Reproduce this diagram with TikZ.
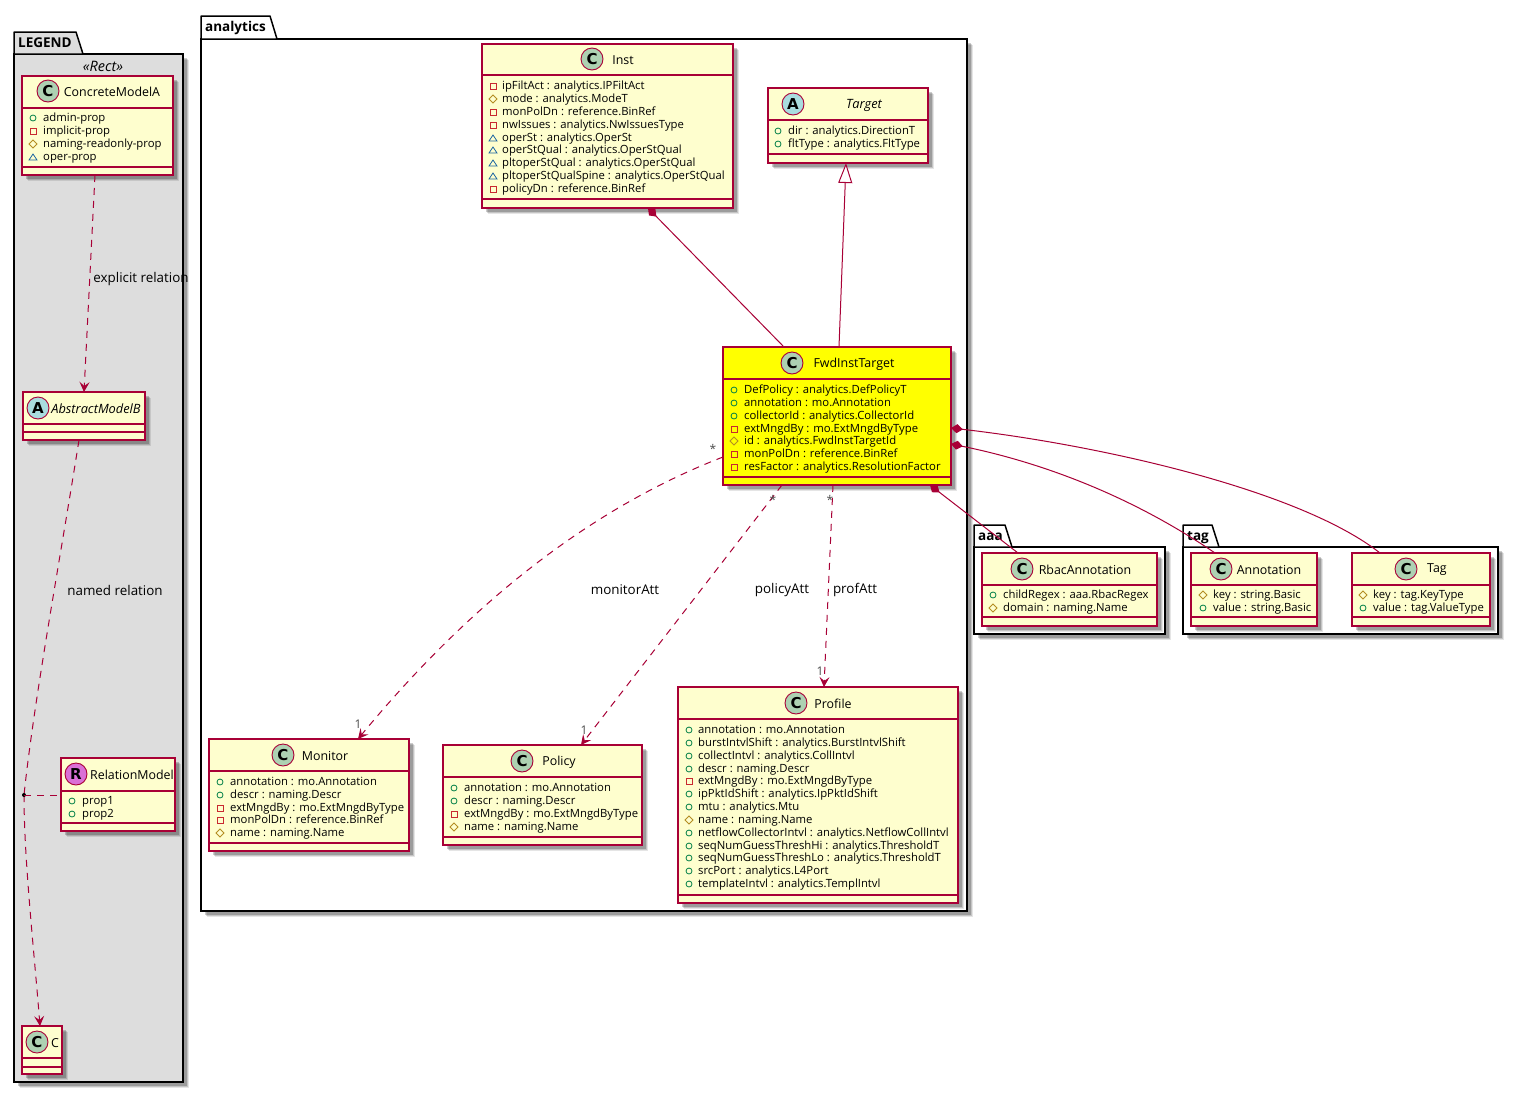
\documentclass[tikz,border=0pt]{standalone}
\usepackage{fontspec}
\setmainfont{Open Sans}
\newfontfamily\glyphfont{DejaVu Sans}
\usetikzlibrary{arrows.meta,shadows,calc}
\definecolor{umlborder}{HTML}{A80036}
\definecolor{umlfill}{HTML}{FEFECE}
\definecolor{spotC}{HTML}{ADD1B2}
\definecolor{spotA}{HTML}{A9DCDF}
\definecolor{spotR}{HTML}{DA70D6}
\definecolor{icpubc}{HTML}{038048}
\definecolor{icprivc}{HTML}{C82930}
\definecolor{icprotc}{HTML}{B38D22}
\definecolor{icpackc}{HTML}{1963A0}
\definecolor{pkggrey}{HTML}{DDDDDD}
\definecolor{fwdyellow}{RGB}{255,255,0}
\newcounter{autonode}
\tikzset{
  softshadow/.style={
    general shadow={shadow xshift=5.5pt,shadow yshift=-5.5pt,fill=black,opacity=.10},
    general shadow={shadow xshift=4.5pt,shadow yshift=-4.5pt,fill=black,opacity=.14},
    general shadow={shadow xshift=3.5pt,shadow yshift=-3.5pt,fill=black,opacity=.20}},
  classbox/.style={draw=umlborder,line width=1.3pt,fill=umlfill,rectangle,inner sep=0pt,outer sep=0pt,anchor=north west,softshadow},
  classsep/.style={draw=umlborder,line width=1.3pt},
  spot/.style={circle,draw=umlborder,line width=.9pt,minimum size=22pt,inner sep=0pt,font=\glyphfont\fontsize{15}{15}\selectfont\bfseries},
  attrtext/.style={anchor=mid west,inner sep=0pt,yshift=-1.3pt,font=\fontsize{11.3}{13}\selectfont,text=black},
  nametext/.style={anchor=center,inner sep=0pt,yshift=-1pt,font=\fontsize{12.4}{14}\selectfont,text=black},
  reltext/.style={anchor=center,inner sep=0pt,font=\fontsize{13.4}{15}\selectfont,text=black},
  cardtext/.style={anchor=center,inner sep=0pt,font=\fontsize{12}{12}\selectfont,text=black!70},
  pkgbody/.style={draw=black,line width=1.5pt,rectangle,inner sep=0pt,outer sep=0pt,anchor=north west,softshadow},
  pkgtab/.style={draw=black,line width=1.5pt,line join=round},
  pkgtitle/.style={anchor=mid west,inner sep=0pt,yshift=-2pt,font=\fontsize{13.5}{14}\selectfont\bfseries,text=black},
  rel/.style={draw=umlborder,line width=1pt},
  dashrel/.style={rel,dash pattern=on 7pt off 6pt},
  openhead/.style={-{Stealth[length=10pt,width=10pt,inset=4pt,fill=umlborder]}},
  comphead/.style={{Diamond[length=12pt,width=9pt,fill=umlborder]}-},
  pics/icpub/.style={code={\draw[icpubc,line width=.8pt] (0,0) circle [radius=3];}},
  pics/icpriv/.style={code={\draw[icprivc,line width=.8pt] (-3,-3) rectangle (3,3);}},
  pics/icprot/.style={code={\draw[icprotc,line width=.8pt] (-4,0) -- (0,-4) -- (4,0) -- (0,4) -- cycle;}},
  pics/icpack/.style={code={\draw[icpackc,line width=.8pt] (-4,3) -- (0,-3) -- (4,3) -- cycle;}},
}
% name, x1, y1, x2, y2, sep1, sep2, fill
\newcommand{\umlbox}[8]{%
  \pgfmathsetmacro{\bw}{#4-#2}\pgfmathsetmacro{\bh}{#5-#3}%
  \node[classbox,fill=#8,minimum width=\bw pt,minimum height=\bh pt] (#1) at (#2,#3) {};
  \draw[classsep] (#2,#6) -- (#4,#6);
  \draw[classsep] (#2,#7) -- (#4,#7);
}
% box name, x, y, letter, colour
\newcommand{\umlspot}[5]{\node[spot,fill=#5] (#1spot) at (#2,#3) {#4};}
% icon, icon x, text x, y, text
\newcommand{\umlattr}[5]{%
  \stepcounter{autonode}%
  \pic at (#2,#4) {#1};
  \node[attrtext] (attr\theautonode) at (#3,#4) {#5};
}
\begin{document}
\begin{tikzpicture}[x=1pt,y=-1pt]
\fill[white] (0,0) rectangle (1519,1093);
\useasboundingbox (0,0) rectangle (1519,1093);

% ---- packages
\node[pkgbody,fill=pkggrey,minimum width=169pt,minimum height=1028pt] (legendpkg) at (14,54) {};
\draw[pkgtab,fill=pkggrey] (14,54) -- (14,32) -- (76,32) -- (83,54) -- cycle;
\node[pkgtitle] (legendtitle) at (18,43) {LEGEND};
\node[anchor=center,inner sep=0pt,font=\fontsize{14.4}{16}\selectfont\itshape] (legendstereo) at (103,66) {«Rect»};

\node[pkgbody,fill=white,minimum width=766pt,minimum height=872pt] (analyticspkg) at (201,39) {};
\draw[pkgtab,fill=white] (201,39) -- (201,16) -- (270,16) -- (277,39) -- cycle;
\node[pkgtitle] (analyticstitle) at (205,27) {analytics};

\node[pkgbody,fill=white,minimum width=191pt,minimum height=87pt] (aaapkg) at (974,547) {};
\draw[pkgtab,fill=white] (974,547) -- (974,525) -- (1005,525) -- (1012,547) -- cycle;
\node[pkgtitle] (aaatitle) at (978,536) {aaa};

\node[pkgbody,fill=white,minimum width=315pt,minimum height=87pt] (tagpkg) at (1183,547) {};
\draw[pkgtab,fill=white] (1183,547) -- (1183,525) -- (1212,525) -- (1219,547) -- cycle;
\node[pkgtitle] (tagtitle) at (1187,536) {tag};

% ---- legend classes
\umlbox{concrete}{22}{76}{173}{175}{108}{167}{umlfill}
\umlspot{concrete}{48}{91}{C}{spotC}
\node[nametext] (concretename) at (112,91) {ConcreteModelA};
\umlattr{icpub}{33}{43}{118}{admin-prop}
\umlattr{icpriv}{33}{43}{131}{implicit-prop}
\umlattr{icprot}{33}{43}{144}{naming-readonly-prop}
\umlattr{icpack}{33}{43}{157}{oper-prop}

\umlbox{abstract}{23}{392}{145}{440}{424}{432}{umlfill}
\umlspot{abstract}{38}{408}{A}{spotA}
\node[nametext,font=\fontsize{12.8}{14}\selectfont\itshape] (abstractname) at (96,408) {AbstractModelB};

\umlbox{relmodel}{61}{758}{175}{831}{791}{823}{umlfill}
\umlspot{relmodel}{76}{774}{R}{spotR}
\node[nametext] (relmodelname) at (132,774) {RelationModel};
\umlattr{icpub}{72}{82}{801}{prop1}
\umlattr{icpub}{72}{82}{814}{prop2}

\umlbox{cbox}{22}{1026}{62}{1074}{1058}{1067}{umlfill}
\umlspot{cbox}{37}{1042}{C}{spotC}
\node[nametext] (cname) at (55,1042) {C};

% ---- analytics classes
\umlbox{inst}{482}{44}{733}{208}{75}{199}{umlfill}
\umlspot{inst}{592}{59}{C}{spotC}
\node[nametext] (instname) at (623,59) {Inst};
\umlattr{icpriv}{493}{502}{86}{ipFiltAct : analytics.IPFiltAct}
\umlattr{icprot}{493}{502}{99}{mode : analytics.ModeT}
\umlattr{icpriv}{493}{502}{112}{monPolDn : reference.BinRef}
\umlattr{icpriv}{493}{502}{125}{nwIssues : analytics.NwIssuesType}
\umlattr{icpack}{493}{502}{138}{operSt : analytics.OperSt}
\umlattr{icpack}{493}{502}{150}{operStQual : analytics.OperStQual}
\umlattr{icpack}{493}{502}{163}{pltoperStQual : analytics.OperStQual}
\umlattr{icpack}{493}{502}{176}{pltoperStQualSpine : analytics.OperStQual}
\umlattr{icpriv}{493}{502}{189}{policyDn : reference.BinRef}

\umlbox{target}{768}{88}{928}{163}{120}{154}{umlfill}
\umlspot{target}{793}{104}{A}{spotA}
\node[nametext,font=\fontsize{12.8}{14}\selectfont\itshape] (targetname) at (864,104) {Target};
\umlattr{icpub}{778}{788}{131}{dir : analytics.DirectionT}
\umlattr{icpub}{778}{788}{144}{fltType : analytics.FltType}

\umlbox{fwd}{723}{347}{951}{485}{379}{477}{fwdyellow}
\umlspot{fwd}{792}{363}{C}{spotC}
\node[nametext] (fwdname) at (854,363) {FwdInstTarget};
\umlattr{icpub}{734}{744}{390}{DefPolicy : analytics.DefPolicyT}
\umlattr{icpub}{734}{744}{403}{annotation : mo.Annotation}
\umlattr{icpub}{734}{744}{416}{collectorId : analytics.CollectorId}
\umlattr{icpriv}{734}{744}{429}{extMngdBy : mo.ExtMngdByType}
\umlattr{icprot}{734}{744}{441}{id : analytics.FwdInstTargetId}
\umlattr{icpriv}{734}{744}{454}{monPolDn : reference.BinRef}
\umlattr{icpriv}{734}{744}{467}{resFactor : analytics.ResolutionFactor}

\umlbox{monitor}{209}{739}{409}{851}{771}{843}{umlfill}
\umlspot{monitor}{283}{755}{C}{spotC}
\node[nametext] (monitorname) at (325,755) {Monitor};
\umlattr{icpub}{220}{230}{782}{annotation : mo.Annotation}
\umlattr{icpub}{220}{230}{795}{descr : naming.Descr}
\umlattr{icpriv}{220}{230}{808}{extMngdBy : mo.ExtMngdByType}
\umlattr{icpriv}{220}{230}{820}{monPolDn : reference.BinRef}
\umlattr{icprot}{220}{230}{833}{name : naming.Name}

\umlbox{policy}{443}{745}{642}{845}{777}{837}{umlfill}
\umlspot{policy}{522}{761}{C}{spotC}
\node[nametext] (policyname) at (559,761) {Policy};
\umlattr{icpub}{454}{464}{788}{annotation : mo.Annotation}
\umlattr{icpub}{454}{464}{801}{descr : naming.Descr}
\umlattr{icpriv}{454}{464}{814}{extMngdBy : mo.ExtMngdByType}
\umlattr{icprot}{454}{464}{827}{name : naming.Name}

\umlbox{profile}{678}{687}{958}{903}{719}{895}{umlfill}
\umlspot{profile}{796}{703}{C}{spotC}
\node[nametext] (profilename) at (833,703) {Profile};
\umlattr{icpub}{689}{698}{730}{annotation : mo.Annotation}
\umlattr{icpub}{689}{698}{743}{burstIntvlShift : analytics.BurstIntvlShift}
\umlattr{icpub}{689}{698}{756}{collectIntvl : analytics.CollIntvl}
\umlattr{icpub}{689}{698}{769}{descr : naming.Descr}
\umlattr{icpriv}{689}{698}{781}{extMngdBy : mo.ExtMngdByType}
\umlattr{icpub}{689}{698}{794}{ipPktIdShift : analytics.IpPktIdShift}
\umlattr{icpub}{689}{698}{807}{mtu : analytics.Mtu}
\umlattr{icprot}{689}{698}{820}{name : naming.Name}
\umlattr{icpub}{689}{698}{833}{netflowCollectorIntvl : analytics.NetflowCollIntvl}
\umlattr{icpub}{689}{698}{846}{seqNumGuessThreshHi : analytics.ThresholdT}
\umlattr{icpub}{689}{698}{858}{seqNumGuessThreshLo : analytics.ThresholdT}
\umlattr{icpub}{689}{698}{871}{srcPort : analytics.L4Port}
\umlattr{icpub}{689}{698}{884}{templateIntvl : analytics.TemplIntvl}

% ---- aaa and tag classes
\umlbox{rbac}{982}{553}{1157}{626}{585}{617}{umlfill}
\umlspot{rbac}{1022}{569}{C}{spotC}
\node[nametext] (rbacname) at (1085,569) {RbacAnnotation};
\umlattr{icpub}{993}{1003}{595}{childRegex : aaa.RbacRegex}
\umlattr{icprot}{993}{1003}{608}{domain : naming.Name}

\umlbox{annot}{1191}{553}{1317}{626}{585}{617}{umlfill}
\umlspot{annot}{1221}{569}{C}{spotC}
\node[nametext] (annotname) at (1269,569) {Annotation};
\umlattr{icprot}{1203}{1213}{595}{key : string.Basic}
\umlattr{icpub}{1203}{1213}{608}{value : string.Basic}

\umlbox{tagbox}{1352}{553}{1490}{626}{585}{617}{umlfill}
\umlspot{tagbox}{1406}{569}{C}{spotC}
\node[nametext] (tagname) at (1437,569) {Tag};
\umlattr{icprot}{1363}{1373}{595}{key : tag.KeyType}
\umlattr{icpub}{1363}{1373}{608}{value : tag.ValueType}

% ---- connectors
\coordinate (reldot) at (24,795);
\draw[dashrel,openhead] ([xshift=73pt]concrete.south west) -- ([xshift=61pt]abstract.north west);
\node[reltext] (explicitlabel) at (141,279) {explicit relation};
\draw[dashrel] ([xshift=56pt]abstract.south west) .. controls (60,560) and (34,700) .. (reldot);
\draw[dashrel,openhead] (reldot) .. controls (24,860) and (34,950) .. ([xshift=18pt]cbox.north west);
\fill[black] (reldot) circle [radius=2];
\draw[dashrel] (reldot) -- (relmodel.west |- reldot);
\node[reltext] (namedlabel) at (115,590) {named relation};

\draw[rel,comphead] ([xshift=166pt]inst.south west) -- ([xshift=61pt]fwd.north west);
\draw[rel,{Triangle[open,length=20pt,width=14pt,fill=white]}-] ([xshift=78pt]target.south west) -- ([xshift=116pt]fwd.north west);

\draw[dashrel,openhead] ([yshift=-110pt]fwd.north west) .. controls (560,520) and (440,640) .. ([xshift=149pt]monitor.north west);
\node[cardtext] (fwdm) at (713,449) {*};
\node[cardtext] (monm) at (358,724) {1};
\node[reltext] (monlabel) at (625,590) {monitorAtt};

\draw[dashrel,openhead] ([xshift=59pt]fwd.south west) -- ([xshift=138pt]policy.north west);
\node[cardtext] (fwdp) at (773,500) {*};
\node[cardtext] (polm) at (584,730) {1};
\node[reltext] (pollabel) at (782,590) {policyAtt};

\draw[dashrel,openhead] ([xshift=110pt]fwd.south west) -- ([xshift=146pt]profile.north west);
\node[cardtext] (fwdq) at (830,500) {*};
\node[cardtext] (profm) at (820,671) {1};
\node[reltext] (proflabel) at (855,590) {profAtt};

\draw[rel,comphead] ([xshift=207pt]fwd.south west) -- ([xshift=36pt]rbac.north west);
\draw[rel,comphead] ([yshift=-97pt]fwd.north east) .. controls (1040,462) and (1130,495) .. ([xshift=24pt]annot.north west);
\draw[rel,comphead] ([yshift=-81pt]fwd.north east) .. controls (1100,445) and (1300,490) .. ([xshift=28pt]tagbox.north west);
\end{tikzpicture}
\end{document}
